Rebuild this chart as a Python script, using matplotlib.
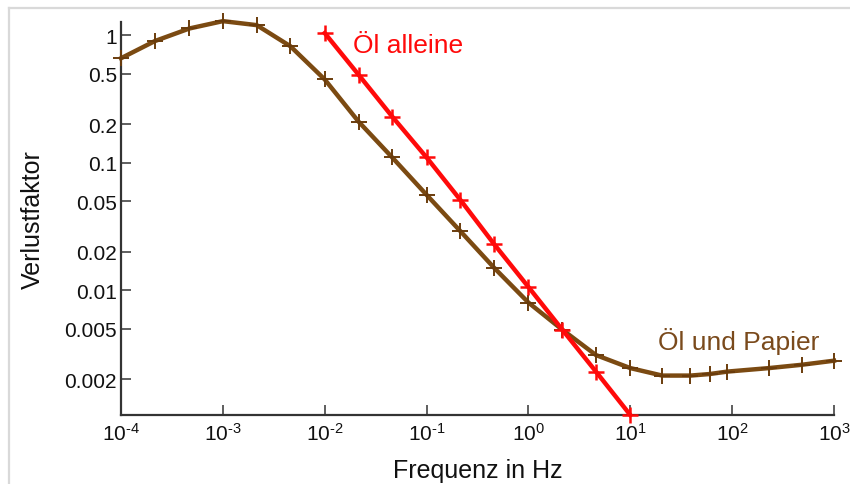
import matplotlib
matplotlib.use("Agg")
import matplotlib.pyplot as plt
from matplotlib.lines import Line2D

plt.rcParams['font.family'] = ['Liberation Sans', 'DejaVu Sans']
plt.rcParams['mathtext.fontset'] = 'custom'
plt.rcParams['mathtext.rm'] = 'Liberation Sans'
plt.rcParams['mathtext.it'] = 'Liberation Sans'
plt.rcParams['axes.unicode_minus'] = False

# Öl und Papier (brown curve)
f_paper = [1e-4, 2.15e-4, 4.7e-4, 1e-3, 2.15e-3, 4.6e-3, 1e-2, 2.15e-2, 4.6e-2,
           0.1, 0.215, 0.46, 1.0, 2.15, 4.6, 10, 20.6, 39, 60, 90, 230, 480, 1000]
tan_paper = [0.66, 0.90, 1.13, 1.29, 1.2, 0.82, 0.45, 0.21, 0.11,
             0.056, 0.029, 0.015, 0.008, 0.0049, 0.0031, 0.00245, 0.00214, 0.00214,
             0.0022, 0.0023, 0.00245, 0.0026, 0.0028]

# Öl alleine (red line)
f_oil = [0.01, 0.0215, 0.046, 0.1, 0.215, 0.46, 1.0, 2.15, 4.6, 10]
tan_oil = [1.04, 0.49, 0.23, 0.11, 0.051, 0.023, 0.0106, 0.0049, 0.0023, 0.00105]

y_ticks = [1, 0.5, 0.2, 0.1, 0.05, 0.02, 0.01, 0.005, 0.002]
y_labels = ['1', '0.5', '0.2', '0.1', '0.05', '0.02', '0.01', '0.005', '0.002']
x_ticks = [1e-4, 1e-3, 1e-2, 1e-1, 1e0, 1e1, 1e2, 1e3]
x_exps = ['-4', '-3', '-2', '-1', '0', '1', '2', '3']
x_labels = [r'$\mathregular{10^{\text{%s}}}$' % e for e in x_exps]

brown = '#7b4a12'
red = '#ff0a0a'

fig = plt.figure(figsize=(8.5, 4.85), dpi=100)
ax = fig.add_axes([121 / 850, 1 - 416 / 485, (834 - 121) / 850, (416 - 23) / 485])

ax.plot(f_paper, tan_paper, color=brown, lw=3.2, marker='+', ms=11, mew=1.4,
        mec='#6a3c0c', clip_on=False, zorder=3)
ax.plot(f_oil, tan_oil, color=red, lw=3.2, marker='+', ms=11, mew=1.8,
        clip_on=False, zorder=4)

ax.text(0.019, 0.84, 'Öl alleine', color=red, fontsize=19, ha='left', va='center')
ax.text(18.7, 0.0040, 'Öl und Papier', color='#7a4a1c', fontsize=19,
        ha='left', va='center')

ax.set_xscale('log')
ax.set_yscale('log')
ax.set_xlim(1e-4, 1e3)
ax.set_ylim(0.00105, 1.27)
ax.minorticks_off()
ax.set_xticks(x_ticks)
ax.set_xticklabels(x_labels)
ax.set_yticks(y_ticks)
ax.set_yticklabels(y_labels)

for s in ['top', 'right']:
    ax.spines[s].set_visible(False)
for s in ['left', 'bottom']:
    ax.spines[s].set_color('#333333')
    ax.spines[s].set_linewidth(1.6)

ax.tick_params(axis='both', direction='in', length=7, width=1.1, color='#333333',
               labelsize=15, labelcolor='#111111')
ax.tick_params(axis='y', pad=3)
ax.tick_params(axis='x', pad=5)

ax.set_xlabel('Frequenz in Hz', fontsize=18, color='#111111', labelpad=10)
ax.set_ylabel('Verlustfaktor', fontsize=18, color='#111111', labelpad=14)

# light frame lines at top and left of the picture
fig.add_artist(Line2D([8.5 / 850, 1], [1 - 9 / 485, 1 - 9 / 485],
                      transform=fig.transFigure, color='#d9d9d9', lw=1.6))
fig.add_artist(Line2D([8.5 / 850, 8.5 / 850], [0, 1 - 9 / 485],
                      transform=fig.transFigure, color='#d9d9d9', lw=1.6))

fig.savefig('out.png', dpi=100)
